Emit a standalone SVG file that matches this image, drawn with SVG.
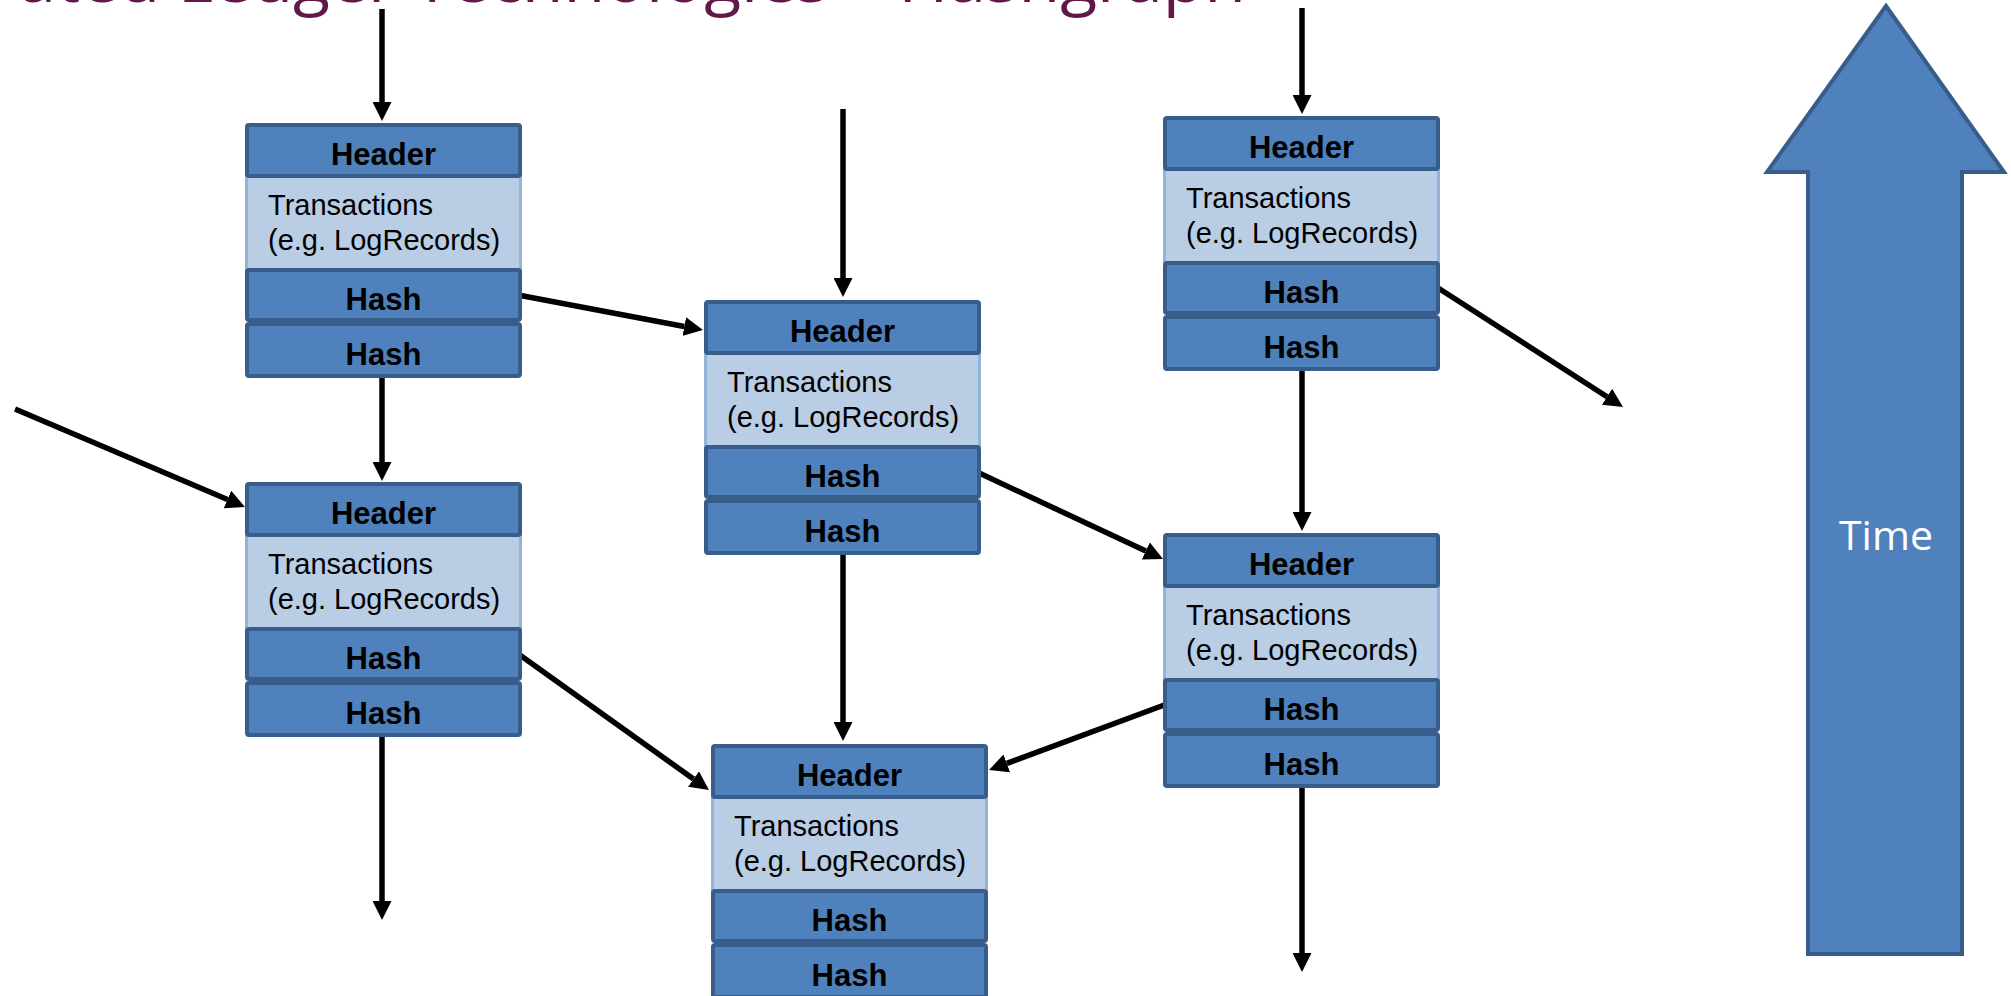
<svg xmlns="http://www.w3.org/2000/svg" width="2011" height="996" viewBox="0 0 2011 996">
  <style>
    .title { font-family: "Open Sans", "Liberation Sans", sans-serif; font-size: 68px; fill: #62174a; }
    .body { fill: #b9cde5; stroke: #95b3d7; stroke-width: 3; }
    .bar { fill: #4f81bd; stroke: #385d8a; stroke-width: 4; }
    .hd { font-family: "Liberation Sans", Arial, sans-serif; font-weight: bold; font-size: 31px; fill: #000; text-anchor: middle; }
    .tx { font-family: "Liberation Sans", Arial, sans-serif; font-size: 29px; fill: #000; }
    .link { stroke: #000; stroke-width: 5.5; fill: none; marker-end: url(#head); }
    .time { fill: #4f81bd; stroke: #385d8a; stroke-width: 4; }
    .time-label { font-family: "Open Sans", "Liberation Sans", sans-serif; font-size: 41px; fill: #fff; text-anchor: middle; }
  </style>
  <defs>
    <marker id="head" markerUnits="userSpaceOnUse" markerWidth="19" markerHeight="19" refX="0" refY="9.5" orient="auto">
      <path d="M0,0 L19,9.5 L0,19 Z" fill="#000"/>
    </marker>
    <!-- one block: header, transaction area, two hash fields -->
    <g id="block">
      <rect class="body" x="1.5" y="52" width="274" height="96"/>
      <rect class="bar" x="2" y="2" width="273" height="51" rx="2"/>
      <rect class="bar" x="2" y="147" width="273" height="50" rx="2"/>
      <rect class="bar" x="2" y="201" width="273" height="52" rx="2"/>
      <text class="hd" x="138.5" y="42">Header</text>
      <text class="tx" x="23" y="92">Transactions</text>
      <text class="tx" x="23" y="127">(e.g. LogRecords)</text>
      <text class="hd" x="138.5" y="187">Hash</text>
      <text class="hd" x="138.5" y="242">Hash</text>
    </g>
  </defs>

  <rect width="2011" height="996" fill="#fff"/>

  <!-- slide title, running off the top edge -->
  <text class="title" x="1246" y="2" text-anchor="end">ated Ledger Technologies – Hashgraph</text>

  <g id="connectors">
    <line class="link" x1="382" y1="9" x2="382" y2="102"/>
    <line class="link" x1="518" y1="295" x2="684.3" y2="326.5"/>
    <line class="link" x1="382" y1="370" x2="382" y2="462"/>
    <line class="link" x1="15" y1="409" x2="227.5" y2="499.5"/>
    <line class="link" x1="843" y1="109" x2="843" y2="278"/>
    <line class="link" x1="977" y1="472" x2="1145.8" y2="551"/>
    <line class="link" x1="843" y1="550" x2="843" y2="722"/>
    <line class="link" x1="517" y1="653" x2="693.5" y2="779"/>
    <line class="link" x1="382" y1="730" x2="382" y2="901"/>
    <line class="link" x1="1302" y1="8" x2="1302" y2="95"/>
    <line class="link" x1="1435" y1="286" x2="1607" y2="396.7"/>
    <line class="link" x1="1302" y1="364" x2="1302" y2="512"/>
    <line class="link" x1="1167" y1="704" x2="1006.8" y2="763.4"/>
    <line class="link" x1="1302" y1="782" x2="1302" y2="953"/>
  </g>

  <g id="block-a"><use href="#block" transform="translate(245,123)"/></g>
  <g id="block-b"><use href="#block" transform="translate(704,300)"/></g>
  <g id="block-c"><use href="#block" transform="translate(245,482)"/></g>
  <g id="block-d"><use href="#block" transform="translate(1163,116)"/></g>
  <g id="block-e"><use href="#block" transform="translate(1163,533)"/></g>
  <g id="block-f"><use href="#block" transform="translate(711,744)"/></g>

  <g id="time-arrow">
    <polygon class="time" points="1886,6 2004,172 1962,172 1962,954 1808,954 1808,172 1767,172"/>
    <text class="time-label" x="1886" y="550">Time</text>
  </g>
</svg>
